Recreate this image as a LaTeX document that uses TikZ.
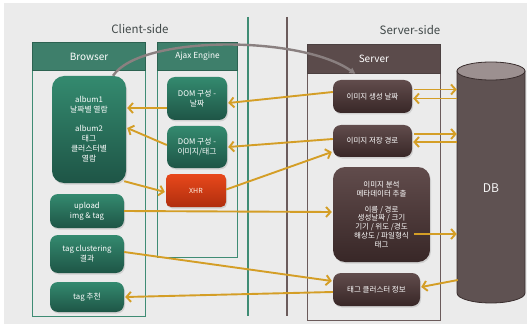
\documentclass[tikz,border=0pt]{standalone}
\usepackage{fontspec}
\setmainfont{Noto Sans CJK KR}
\usetikzlibrary{arrows.meta,calc,shadows}
\definecolor{bgc}{HTML}{EBEBEB}
\definecolor{tealhdr}{HTML}{3E7F6B}
\definecolor{tealline}{HTML}{3F8C74}
\definecolor{tealtop}{HTML}{348A6F}
\definecolor{tealbot}{HTML}{1E5546}
\definecolor{brnhdr}{HTML}{5B4B4B}
\definecolor{brnline}{HTML}{6B5B5B}
\definecolor{brntop}{HTML}{614C4C}
\definecolor{brnbot}{HTML}{382727}
\definecolor{xhrtop}{HTML}{E8481B}
\definecolor{xhrbot}{HTML}{B02E0E}
\definecolor{gold}{HTML}{D49E26}
\definecolor{dbbody}{HTML}{5F5252}
\definecolor{dbtop}{HTML}{9C9090}
\definecolor{dbline}{HTML}{3A2E2E}
\definecolor{grayarr}{HTML}{8A8080}
\definecolor{titlec}{HTML}{404848}
\tikzset{
  greennode/.style={rounded corners=8pt, top color=tealtop, bottom color=tealbot,
    draw=none, text=white, align=center, font=\fontsize{7.8}{10}\selectfont, inner sep=1pt,
    drop shadow={opacity=0.25, shadow xshift=1pt, shadow yshift=-1.5pt}},
  brownnode/.style={rounded corners=8pt, top color=brntop, bottom color=brnbot,
    draw=none, text=white, align=center, font=\fontsize{7.5}{8.8}\selectfont, inner sep=1pt,
    drop shadow={opacity=0.25, shadow xshift=1pt, shadow yshift=-1.5pt}},
  rednode/.style={rounded corners=5pt, top color=xhrtop, bottom color=xhrbot,
    draw=none, text=white!90!orange, align=center, font=\fontsize{7}{8}\selectfont, inner sep=1pt,
    drop shadow={opacity=0.25, shadow xshift=1pt, shadow yshift=-1.5pt}},
  tealframe/.style={draw=tealline, line width=1.1pt, inner sep=0pt},
  tealhead/.style={draw=tealline!70!black, line width=1.1pt, fill=tealhdr, text=white, inner sep=0pt},
  brnframe/.style={draw=brnline, line width=0.8pt, inner sep=0pt},
  brnhead/.style={draw=brnline!70!black, line width=0.8pt, fill=brnhdr, text=white, inner sep=0pt},
  arr/.style={draw=gold, line width=1.9pt, -{Straight Barb[length=4.5pt,width=10pt,line width=1.9pt]}},
  title/.style={text=titlec, font=\fontsize{11.5}{13}\selectfont, inner sep=0pt},
}
\begin{document}
\begin{tikzpicture}[x=1pt,y=-1pt]
\useasboundingbox (0,0) rectangle (530,326);
\fill[white] (0,0) rectangle (530,326);
\fill[bgc] (4,3) rectangle (527,324);

% titles
\node[title] (ctitle) at (140,29) {Client-side};
\node[title] (stitle) at (410,30) {Server-side};

% divider lines
\draw[tealline, line width=1.3pt] (248,17) -- (248,316);
\draw[brnline, line width=1.3pt] (287,17) -- (287,316);

% Browser frame
\node[tealframe, minimum width=113pt, minimum height=274pt, anchor=north west] (bframe) at (32,42) {};
\node[tealhead, minimum width=113pt, minimum height=28pt, anchor=north west,
      font=\fontsize{10}{12}\selectfont] (bhdr) at (32,42) {Browser};
% Ajax frame
\node[tealframe, minimum width=80pt, minimum height=215pt, anchor=north west] (aframe) at (157,42) {};
\node[tealhead, minimum width=80pt, minimum height=28pt, anchor=north west,
      font=\fontsize{8.3}{10}\selectfont] (ahdr) at (157,42) {Ajax Engine};
% Server frame
\node[brnframe, minimum width=133pt, minimum height=276pt, anchor=north west] (sframe) at (307,44) {};
\node[brnhead, minimum width=133pt, minimum height=29pt, anchor=north west,
      font=\fontsize{10}{12}\selectfont] (shdr) at (307,44) {Server};

% DB cylinder
\draw[dbline, line width=0.8pt, fill=dbbody] (457,71) -- (457,293)
  arc[start angle=180, end angle=0, x radius=34, y radius=10] -- (525,71) -- cycle;
\draw[dbline, line width=0.8pt, fill=dbtop] (491,71) ellipse[x radius=34, y radius=9];
\node[minimum width=68pt, minimum height=200pt, inner sep=0pt, text=white!92!gray,
      font=\fontsize{12}{14}\selectfont] (db) at (491,188) {DB};

% Browser nodes
\node[greennode, rounded corners=12pt, minimum width=74pt, minimum height=107pt] (album) at (89,129.5)
  {album1\\날짜별 열람\\[9pt]album2\\태그\\클러스터별\\열람};
\node[greennode, minimum width=74pt, minimum height=34pt] (upload) at (87,211) {upload\\img \& tag};
\node[greennode, minimum width=74pt, minimum height=38pt] (tagc) at (87,254) {tag clustering\\결과};
\node[greennode, minimum width=74pt, minimum height=30pt] (tagr) at (87,297) {tag 추천};

% Ajax nodes
\node[greennode, minimum width=60pt, minimum height=43pt] (dom1) at (197,98.5) {DOM 구성 -\\날짜};
\node[greennode, minimum width=60pt, minimum height=42pt] (dom2) at (197,147) {DOM 구성 -\\이미지/태그};
\node[rednode, minimum width=60pt, minimum height=33pt] (xhr) at (196,190.5) {XHR};

% Server nodes
\node[brownnode, minimum width=79pt, minimum height=33pt] (s1) at (372.5,96.5) {이미지 생성 날짜};
\node[brownnode, minimum width=79pt, minimum height=32pt] (s2) at (372.5,141) {이미지 저장 경로};
\node[brownnode, rounded corners=12pt, minimum width=97pt, minimum height=95pt] (s3) at (381.5,214.5)
  {이미지 분석\\메타데이터 추출\\[7pt]이름 / 경로\\생성날짜 / 크기\\기기 / 위도 /경도\\해상도 / 파일형식\\태그};
\node[brownnode, minimum width=87pt, minimum height=33pt] (s4) at (376.5,289.5) {태그 클러스터 정보};

% gray curved arrow
\draw[grayarr, line width=2.4pt, -{Triangle[length=6pt,width=6pt]}]
  ($(album.north)+(24,0)$) .. controls (140,35) and (300,35) .. ($(shdr.south)+(-18.5,0)$);

% gold arrows
\draw[arr] ($(s1.west)+(0,-4.5)$) -- ($(dom1.east)+(1,4.5)$);
\draw[arr] ($(s2.west)+(0,-2)$) -- ($(dom2.east)+(1,0)$);
\draw[arr] ($(dom1.west)+(0,9.5)$) -- ($(album.east)+(1,-21.5)$);
\draw[arr] ($(dom2.west)+(0,-2)$) -- ($(album.east)+(1,-1.5)$);
\draw[arr] ($(album.south east)+(-2,-2)$) -- ($(xhr.west)+(-1,1.5)$);
\draw[arr] ($(xhr.east)+(0,-1)$) -- ($(s2.west)+(-1,11)$);
\draw[arr] (upload.east) -- ($(s3.west)+(-1,-2.5)$);
\draw[arr] ($(tagc.east)+(0,-2)$) -- ($(s4.west)+(-1,-8.5)$);
\draw[arr] ($(s4.west)+(0,2.5)$) -- ($(tagr.east)+(1,0)$);

\draw[arr] ($(s1.east)+(2,-7)$) -- ($(s1.east -| db.west)+(0,-7)$);
\draw[arr] ($(s1.east -| db.west)+(0,2)$) -- ($(s1.east)+(1,2)$);
\draw[arr] ($(s2.east)+(2,-7)$) -- ($(s2.east -| db.west)+(0,-7)$);
\draw[arr] ($(s2.east -| db.west)+(0,1)$) -- ($(s2.east)+(1,1)$);
\draw[arr] ($(s3.east)+(-16,19.5)$) -- ($(s3.east -| db.west)+(0,19.5)$);
\draw[arr] ($(s4.east -| db.west)+(1,-9.5)$) -- ($(s4.east)+(1,-2.5)$);
\end{tikzpicture}
\end{document}
